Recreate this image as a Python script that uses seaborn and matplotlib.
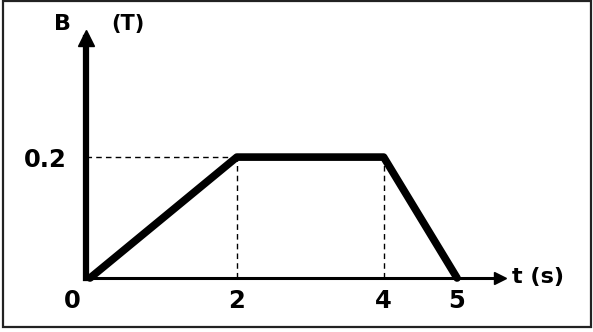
import matplotlib
matplotlib.use("Agg")
import matplotlib.pyplot as plt
import seaborn as sns
import pandas as pd
from matplotlib.patches import Rectangle
from matplotlib.transforms import ScaledTranslation

tempo = [0, 2, 4, 5]
campo_b = [0.0, 0.2, 0.2, 0.0]
x_ticks = [0, 2, 4, 5]
x_tick_labels = ["0", "2", "4", "5"]
y_ticks = [0.2]
y_tick_labels = ["0.2"]

sns.set_style("white")
plt.rcParams['font.family'] = ['DejaVu Sans']
plt.rcParams['text.color'] = 'black'
plt.rcParams['xtick.color'] = 'black'
plt.rcParams['ytick.color'] = 'black'

W, H = 593, 332
fig = plt.figure(figsize=(W / 100, H / 100), dpi=100)

# eixos posicionados em pixels da figura
left_px, right_px, bottom_px, top_px = 86, 500, 278, 38
ax = fig.add_axes([left_px / W, (H - bottom_px) / H,
                   (right_px - left_px) / W, (bottom_px - top_px) / H])
ax.set_xlim(-0.055, 5.585)
ax.set_ylim(0, 0.397)

df = pd.DataFrame({"t": tempo, "B": campo_b})
sns.lineplot(data=df, x="t", y="B", ax=ax, color="black", linewidth=5.5,
             solid_joinstyle="round", solid_capstyle="round", clip_on=False)

# linhas tracejadas de referência
ax.plot([-0.055, 2], [0.2, 0.2], ls=(0, (4, 3)), color="black", lw=1)
ax.plot([2, 2], [0, 0.2], ls=(0, (4, 3)), color="black", lw=1)
ax.plot([4, 4], [0, 0.2], ls=(0, (4, 3)), color="black", lw=1)

# eixos com setas
for s in ["top", "right"]:
    ax.spines[s].set_visible(False)
ax.spines["left"].set_linewidth(4.5)
ax.spines["left"].set_color("black")
ax.spines["bottom"].set_linewidth(2.2)
ax.spines["bottom"].set_color("black")
ax.plot(0, 1.0, marker="^", color="black", markersize=11,
        transform=ax.transAxes, clip_on=False)
ax.plot(1.0, 0, marker=">", color="black", markersize=9,
        transform=ax.transAxes, clip_on=False)

ax.set_xticks(x_ticks)
ax.set_xticklabels(x_tick_labels, fontsize=17.5, fontweight="bold")
ax.set_yticks(y_ticks)
ax.set_yticklabels(y_tick_labels, fontsize=17.5, fontweight="bold")
ax.tick_params(axis="x", length=0, pad=8)
ax.tick_params(axis="y", length=0, pad=14)
ax.set_xlabel("")
ax.set_ylabel("")

# o "0" fica um pouco à esquerda no original
lbl0 = ax.get_xticklabels()[0]
lbl0.set_transform(lbl0.get_transform() + ScaledTranslation(-0.18, 0, fig.dpi_scale_trans))

ax.text(-0.37, 0.42, "B", fontsize=16, fontweight="bold",
        ha="center", va="center", clip_on=False)
ax.text(0.52, 0.42, "(T)", fontsize=15, fontweight="bold",
        ha="center", va="center", clip_on=False)
ax.text(5.75, 0.002, "t (s)", fontsize=16, fontweight="bold",
        ha="left", va="center", clip_on=False)

# moldura em volta da figura
fig.add_artist(Rectangle((3 / W, 5 / H), 588 / W, 326 / H,
                         transform=fig.transFigure, fill=False,
                         edgecolor="#222222", linewidth=1.6))

fig.savefig("out.png", dpi=100)
